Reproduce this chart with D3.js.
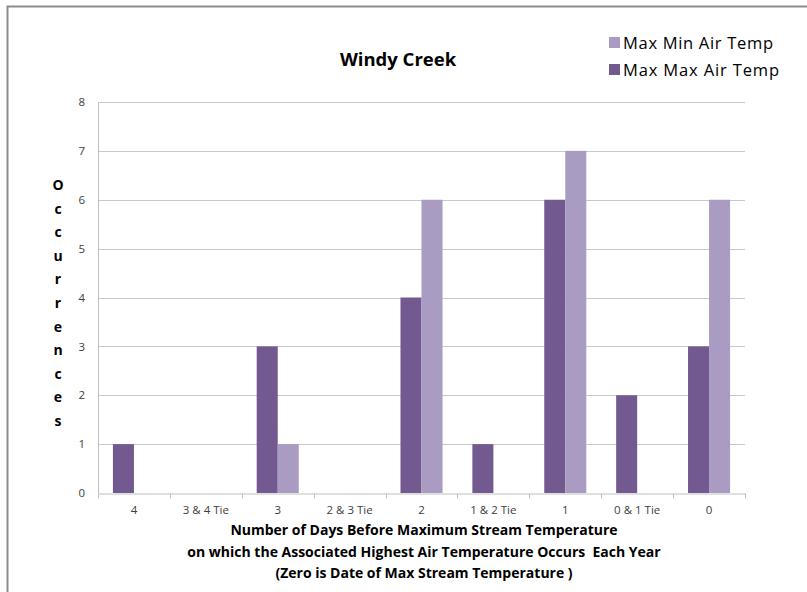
<!DOCTYPE html>
<html>
<head>
<meta charset="utf-8">
<script src="https://cdn.jsdelivr.net/npm/d3@7"></script>
<style>
  html, body { margin: 0; padding: 0; background: #fff; }
  svg { display: block; font-family: "Open Sans", Lato, sans-serif; }
</style>
</head>
<body>
<svg id="chart" width="807" height="592"></svg>
<script>
// Categories along the x axis (days before max stream temperature)
const categories = ["4", "3 & 4 Tie", "3", "2 & 3 Tie", "2", "1 & 2 Tie", "1", "0 & 1 Tie", "0"];
// Occurrence counts per series
const maxMaxAirTemp = [1, 0, 3, 0, 4, 1, 6, 2, 3];
const maxMinAirTemp = [0, 0, 1, 0, 6, 0, 7, 0, 6];
const yTicks = [0, 1, 2, 3, 4, 5, 6, 7, 8];

const seriesNames = ["Max Max Air Temp", "Max Min Air Temp"];
const seriesColors = { "Max Max Air Temp": "#725990", "Max Min Air Temp": "#a99bc1" };

const svg = d3.select("#chart");

// Outer frame (top and left edges)
svg.append("path")
  .attr("d", "M7.5,592 L7.5,6.5 L807,6.5")
  .attr("fill", "none")
  .attr("stroke", "#8c8c8c")
  .attr("stroke-width", 2);

const plot = { left: 98, right: 745, top: 102, bottom: 493 };

const x = d3.scaleBand().domain(categories).range([plot.left, plot.right]).paddingInner(0).paddingOuter(0);
const xInner = d3.scaleBand().domain(seriesNames).range([0, x.bandwidth()]).paddingInner(0).paddingOuter(0.71);
const y = d3.scaleLinear().domain([0, 8]).range([plot.bottom, plot.top]);

// Horizontal gridlines
svg.append("g")
  .selectAll("line")
  .data(yTicks.filter(d => d > 0))
  .join("line")
  .attr("x1", plot.left).attr("x2", plot.right)
  .attr("y1", d => Math.round(y(d)) + 0.5).attr("y2", d => Math.round(y(d)) + 0.5)
  .attr("stroke", "#c8c8c8").attr("stroke-width", 1);

// Bars
const rows = categories.map((c, i) => ({ cat: c, vals: [
  { name: "Max Max Air Temp", v: maxMaxAirTemp[i] },
  { name: "Max Min Air Temp", v: maxMinAirTemp[i] }
]}));

svg.append("g")
  .selectAll("g")
  .data(rows)
  .join("g")
  .attr("transform", d => `translate(${x(d.cat)},0)`)
  .selectAll("rect")
  .data(d => d.vals.filter(s => s.v > 0))
  .join("rect")
  .attr("x", d => xInner(d.name))
  .attr("width", xInner.bandwidth())
  .attr("y", d => y(d.v))
  .attr("height", d => y(0) - y(d.v))
  .attr("fill", d => seriesColors[d.name]);

// Y axis
const yAxis = svg.append("g")
  .attr("transform", `translate(${plot.left},0)`)
  .call(d3.axisLeft(y).tickValues(yTicks).tickSize(0).tickPadding(13));
yAxis.select(".domain").attr("stroke", "#bfbfbf").attr("d", `M0.5,${plot.top}V${plot.bottom}`);
yAxis.selectAll("text").attr("font-size", 11.5).attr("fill", "#404040").attr("font-family", "Open Sans, sans-serif");

// X axis
const xAxis = svg.append("g")
  .attr("transform", `translate(0,${plot.bottom + 0.5})`)
  .call(d3.axisBottom(x).tickSize(0).tickPadding(12));
xAxis.select(".domain").attr("stroke", "#bfbfbf");
xAxis.selectAll("text").attr("font-size", 11.5).attr("fill", "#404040").attr("font-family", "Open Sans, sans-serif");
// Tick marks at category boundaries
xAxis.append("g")
  .selectAll("line")
  .data(d3.range(categories.length + 1))
  .join("line")
  .attr("x1", i => Math.round(plot.left + i * x.step()) + 0.5)
  .attr("x2", i => Math.round(plot.left + i * x.step()) + 0.5)
  .attr("y1", 0).attr("y2", 5)
  .attr("stroke", "#bfbfbf");

// Title
svg.append("text")
  .attr("x", 398).attr("y", 66)
  .attr("text-anchor", "middle")
  .attr("font-size", 18.5).attr("font-weight", "bold").attr("fill", "#000")
  .text("Windy Creek");

// Vertical y-axis title, one letter per line
const yTitle = "Occurrences".split("");
svg.append("g")
  .selectAll("text")
  .data(yTitle)
  .join("text")
  .attr("x", 58)
  .attr("y", (d, i) => 190 + i * 23.6)
  .attr("text-anchor", "middle")
  .attr("font-size", 14).attr("font-weight", "bold").attr("fill", "#000")
  .text(d => d);

// X-axis title lines
const xTitleLines = [
  "Number of Days Before Maximum Stream Temperature",
  "on which the Associated Highest Air Temperature Occurs  Each Year",
  "(Zero is Date of Max Stream Temperature )"
];
svg.append("g")
  .selectAll("text")
  .data(xTitleLines)
  .join("text")
  .attr("x", 424)
  .attr("y", (d, i) => 535 + i * 21.5)
  .attr("text-anchor", "middle")
  .attr("font-size", 14).attr("font-weight", "bold").attr("fill", "#000")
  .attr("xml:space", "preserve")
  .style("white-space", "pre")
  .text(d => d);

// Legend
const legendItems = ["Max Min Air Temp", "Max Max Air Temp"];
const legendWidths = [150, 156];
const legend = svg.append("g")
  .selectAll("g")
  .data(legendItems)
  .join("g")
  .attr("transform", (d, i) => `translate(609,${37 + i * 27})`);
legend.append("rect")
  .attr("width", 11).attr("height", 11)
  .attr("fill", d => seriesColors[d]);
legend.append("text")
  .attr("x", 14).attr("y", 11.5)
  .attr("font-size", 16.5).attr("fill", "#000")
  .attr("textLength", (d, i) => legendWidths[i])
  .text(d => d);
</script>
</body>
</html>
